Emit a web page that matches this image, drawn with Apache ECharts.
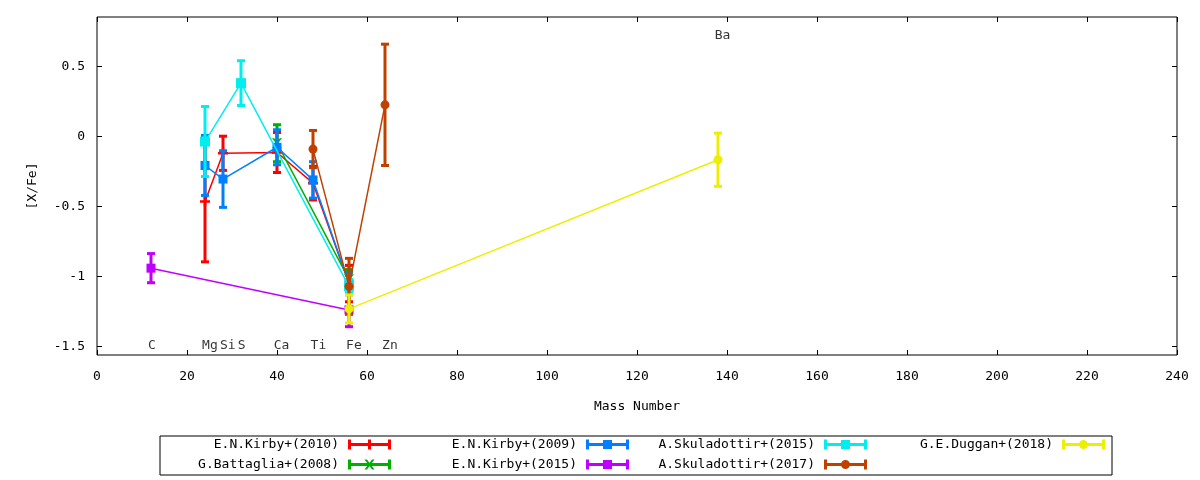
<!DOCTYPE html>
<html>
<head>
<meta charset="utf-8">
<script src="https://cdn.jsdelivr.net/npm/echarts@6/dist/echarts.min.js"></script>
<style>
html,body{margin:0;padding:0;background:#fff;}
#chart{width:1200px;height:480px;}
</style>
</head>
<body>
<div id="chart"></div>
<script>
// ---- data (mass number, [X/Fe], error) ----
const kirby2010X = [24, 28, 40, 48, 56];
const kirby2010Y = [-0.465, -0.12, -0.114, -0.333, -1.05];
const kirby2010E = [0.43, 0.122, 0.143, 0.12, 0.13];

const battaglia2008X = [40, 56];
const battaglia2008Y = [-0.048, -1.02];
const battaglia2008E = [0.132, 0.07];

const kirby2009X = [24, 28, 40, 48, 56];
const kirby2009Y = [-0.207, -0.304, -0.077, -0.31, -1.05];
const kirby2009E = [0.214, 0.202, 0.125, 0.13, 0.08];

const kirby2015X = [12, 56];
const kirby2015Y = [-0.94, -1.238];
const kirby2015E = [0.104, 0.12];

const skuladottir2015X = [24, 32, 56];
const skuladottir2015Y = [-0.036, 0.381, -1.07];
const skuladottir2015E = [0.25, 0.16, 0.05];

const skuladottir2017X = [48, 56, 64];
const skuladottir2017Y = [-0.09, -1.07, 0.226];
const skuladottir2017E = [0.133, 0.2, 0.433];

const duggan2018X = [56, 138];
const duggan2018Y = [-1.231, -0.166];
const duggan2018E = [0.1, 0.19];

const seriesNames = ['E.N.Kirby+(2010)', 'G.Battaglia+(2008)', 'E.N.Kirby+(2009)', 'E.N.Kirby+(2015)',
  'A.Skuladottir+(2015)', 'A.Skuladottir+(2017)', 'G.E.Duggan+(2018)'];

const elementNames = ['C', 'Mg', 'Si', 'S', 'Ca', 'Ti', 'Fe', 'Zn', 'Ba'];
const elementLabelX = [12.2, 25.1, 29.05, 32.15, 41, 49.2, 57.1, 65.1, 139];
const elementLabelY = [-1.49, -1.49, -1.49, -1.49, -1.49, -1.49, -1.49, -1.49, 0.72];

const yTicks = [-1.5, -1, -0.5, 0, 0.5];
const yMin = -1.56, yMax = 0.853;

// ---- styles ----
const FONT = 'DejaVu Sans Mono';
const colors = ['#ff0000', '#00b000', '#0080ff', '#c000ff', '#00eeee', '#c04000', '#eeee00'];
const plusSym = 'path://M3.75,0H6.25V10H3.75Z M0,3.75H10V6.25H0Z';
const crossSym = 'path://M0,0L2.2,0L10,10L7.8,10Z M7.8,0L10,0L2.2,10L0,10Z';
const symbols = [plusSym, crossSym, 'rect', 'rect', 'rect', 'circle', 'circle'];
const symbolSizes = [10, 10, 9, 9, 10, 9, 9];

const base = 'M0,3.5H43V6.5H0Z M0,0H3V10H0Z M40,0H43V10H40Z ';
const iconMarks = [
  'M20,0H23V10H20Z',
  'M16.5,0L19,0L26.5,10L24,10Z M24,0L26.5,0L19,10L16.5,10Z',
  'M17,0.5H26V9.5H17Z',
  'M17,0.5H26V9.5H17Z',
  'M17,0.5H26V9.5H17Z',
  'M17,5A4.5,4.5 0 1 1 26,5A4.5,4.5 0 1 1 17,5Z',
  'M17,5A4.5,4.5 0 1 1 26,5A4.5,4.5 0 1 1 17,5Z'
];

const datasets = [
  [kirby2010X, kirby2010Y, kirby2010E],
  [battaglia2008X, battaglia2008Y, battaglia2008E],
  [kirby2009X, kirby2009Y, kirby2009E],
  [kirby2015X, kirby2015Y, kirby2015E],
  [skuladottir2015X, skuladottir2015Y, skuladottir2015E],
  [skuladottir2017X, skuladottir2017Y, skuladottir2017E],
  [duggan2018X, duggan2018Y, duggan2018E]
];

function errorBarRender(color) {
  return function (params, api) {
    const x = api.value(0), y = api.value(1), e = api.value(2);
    const hi = api.coord([x, y + e]);
    const lo = api.coord([x, y - e]);
    const cw = 4;
    const st = { stroke: color, lineWidth: 3 };
    return {
      type: 'group',
      children: [
        { type: 'line', shape: { x1: hi[0], y1: hi[1], x2: lo[0], y2: lo[1] }, style: st },
        { type: 'line', shape: { x1: hi[0] - cw, y1: hi[1], x2: hi[0] + cw, y2: hi[1] }, style: st },
        { type: 'line', shape: { x1: lo[0] - cw, y1: lo[1], x2: lo[0] + cw, y2: lo[1] }, style: st }
      ]
    };
  };
}

const series = [];
datasets.forEach(function (d, i) {
  const pts = d[0].map(function (x, k) { return [x, d[1][k], d[2][k]]; });
  series.push({
    name: seriesNames[i],
    type: 'line',
    data: pts.map(function (p) { return [p[0], p[1]]; }),
    symbol: symbols[i],
    symbolSize: symbolSizes[i],
    showSymbol: true,
    lineStyle: { color: colors[i], width: 1.5 },
    itemStyle: { color: colors[i], borderWidth: 0 },
    z: 10 + 2 * i,
    silent: true,
    animation: false
  });
  series.push({
    name: seriesNames[i] + ' err',
    type: 'custom',
    data: pts,
    renderItem: errorBarRender(colors[i]),
    encode: { x: 0, y: 1 },
    z: 11 + 2 * i,
    silent: true,
    animation: false
  });
});

series.push({
  name: 'elements',
  type: 'scatter',
  data: elementNames.map(function (n, k) { return { name: n, value: [elementLabelX[k], elementLabelY[k]] }; }),
  symbolSize: 1,
  itemStyle: { color: 'rgba(0,0,0,0)' },
  label: {
    show: true, position: 'inside', formatter: '{b}',
    color: '#000', fontFamily: FONT, fontSize: 13
  },
  silent: true,
  z: 40,
  animation: false
});

const legendOrder = [0, 2, 4, 6, 1, 3, 5];

const option = {
  backgroundColor: '#fff',
  animation: false,
  grid: { left: 97, right: 23, top: 17, bottom: 125, show: true, borderColor: '#000', borderWidth: 1, backgroundColor: 'transparent' },
  xAxis: [{
    type: 'value', min: 0, max: 240, interval: 20,
    name: 'Mass Number', nameLocation: 'middle', nameGap: 45,
    nameTextStyle: { fontFamily: FONT, fontSize: 13, color: '#000' },
    axisLine: { show: false, onZero: false },
    axisTick: { show: true, inside: true, length: 5, lineStyle: { color: '#000' } },
    axisLabel: { fontFamily: FONT, fontSize: 13, color: '#000', margin: 15 },
    splitLine: { show: false }
  }, {
    type: 'value', min: 0, max: 240, interval: 20, position: 'top',
    axisLine: { show: false, onZero: false },
    axisTick: { show: true, inside: true, length: 5, lineStyle: { color: '#000' } },
    axisLabel: { show: false },
    splitLine: { show: false }
  }],
  yAxis: [{
    type: 'value', min: yMin, max: yMax,
    name: '[X/Fe]', nameLocation: 'middle', nameGap: 58, nameRotate: 90,
    nameTextStyle: { fontFamily: FONT, fontSize: 13, color: '#000' },
    axisLine: { show: false, onZero: false },
    axisTick: { show: true, inside: true, length: 5, lineStyle: { color: '#000' }, customValues: yTicks },
    axisLabel: { fontFamily: FONT, fontSize: 13, color: '#000', margin: 12, customValues: yTicks },
    splitLine: { show: false }
  }, {
    type: 'value', min: yMin, max: yMax, position: 'right',
    axisLine: { show: false, onZero: false },
    axisTick: { show: true, inside: true, length: 5, lineStyle: { color: '#000' }, customValues: yTicks },
    axisLabel: { show: false, customValues: yTicks },
    splitLine: { show: false }
  }],
  legend: {
    left: 160, top: 436,
    width: 948,
    orient: 'horizontal',
    align: 'right',
    itemWidth: 43, itemHeight: 10, itemGap: 7,
    padding: [2, 7, 4, 0],
    borderColor: '#000', borderWidth: 1,
    selectedMode: false,
    itemStyle: { borderWidth: 0 },
    data: legendOrder.map(function (i) {
      return { name: seriesNames[i], icon: 'path://' + base + iconMarks[i] };
    }),
    formatter: function (name) { return '{n|' + name + '}'; },
    textStyle: {
      fontFamily: FONT, fontSize: 13, color: '#000',
      rich: { n: { width: 179, height: 13, lineHeight: 13, align: 'right', padding: [0, 4, 0, 0], fontFamily: FONT, fontSize: 13, color: '#000' } }
    }
  },
  series: series
};

const chart = echarts.init(document.getElementById('chart'), null, { renderer: 'canvas' });
chart.setOption(option);
</script>
</body>
</html>
